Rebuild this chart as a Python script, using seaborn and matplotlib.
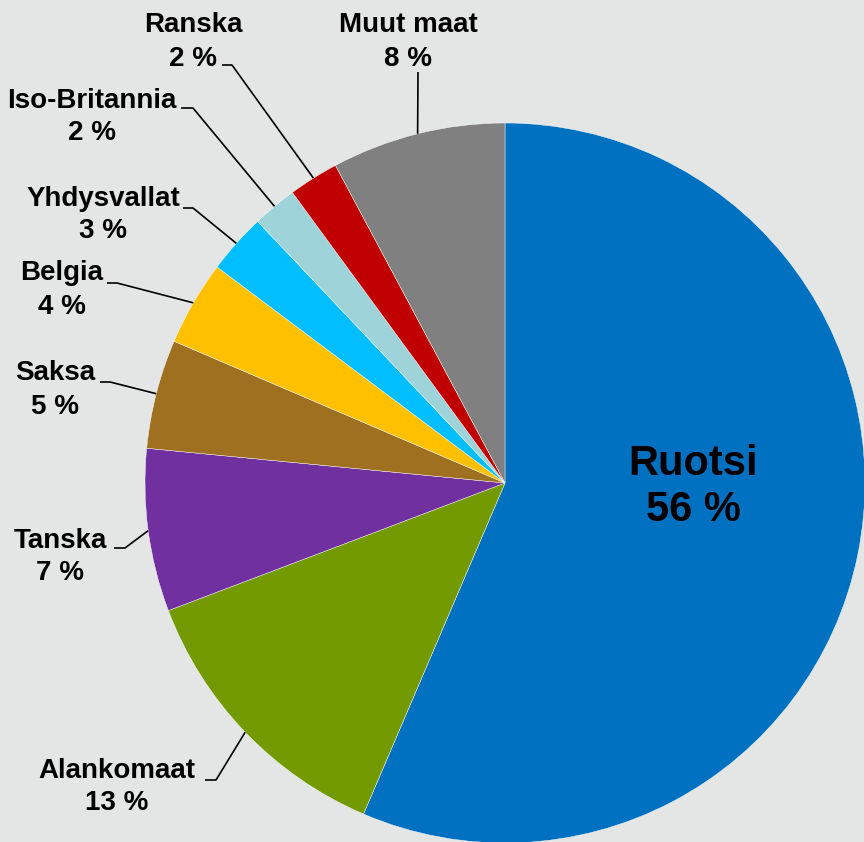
import numpy as np
import matplotlib
matplotlib.use("Agg")
import matplotlib.pyplot as plt
import seaborn as sns

# Shares by country (%), clockwise from 12 o'clock
countries = ["Ruotsi", "Alankomaat", "Tanska", "Saksa", "Belgia",
             "Yhdysvallat", "Iso-Britannia", "Ranska", "Muut maat"]
shares = [56.4, 12.8, 7.3, 4.9, 3.8, 2.7, 2.0, 2.25, 7.8]
shown_pct = [56, 13, 7, 5, 4, 3, 2, 2, 8]
colors = ["#0070C0", "#739A00", "#7030A0", "#9E7020", "#FFC000",
          "#00BEFF", "#9ED3DA", "#C00000", "#808080"]

W, H = 864, 842
bg = "#E4E6E5"

sns.set_style("white")
plt.rcParams["font.family"] = ["Liberation Sans", "DejaVu Sans"]

fig = plt.figure(figsize=(W / 100, H / 100), dpi=100, facecolor=bg)
ax = fig.add_axes([0, 0, 1, 1])
ax.set_facecolor(bg)

cx, cy, r = 505, H - 483, 360
wedges, _ = ax.pie(shares, colors=sns.color_palette(colors), startangle=90,
                   counterclock=False, center=(cx, cy), radius=r,
                   wedgeprops=dict(edgecolor="white", linewidth=0.3))
ax.set_xlim(0, W)
ax.set_ylim(0, H)
ax.set_aspect("equal")
ax.axis("off")

# label layout in pixel coords (top-left origin): text centre, leader start, leader elbow
layout = {
    "Muut maat":     ((408, 42),  (418, 72),  (418, 72)),
    "Ranska":        ((193, 42),  (222, 65),  (232, 65)),
    "Iso-Britannia": ((92, 117),  (181, 108), (193, 108)),
    "Yhdysvallat":   ((103, 215), (183, 208), (193, 208)),
    "Belgia":        ((62, 290),  (107, 283), (117, 283)),
    "Saksa":         ((55, 390),  (100, 382), (110, 382)),
    "Tanska":        ((60, 557),  (114, 548), (125, 548)),
    "Alankomaat":    ((117, 787), (205, 780), (216, 780)),
}

for w, name, pct in zip(wedges, countries, shown_pct):
    label = f"{name}\n{pct} %"
    if name == "Ruotsi":
        ax.text(693, H - 487, label, ha="center", va="center", fontsize=30,
                fontweight="bold", color="black", linespacing=1.2)
        continue
    (tx, ty), (sx, sy), (ex, ey) = layout[name]
    mid = np.deg2rad((w.theta1 + w.theta2) / 2)
    axp, ayp = cx + r * np.cos(mid), cy + r * np.sin(mid)
    ax.plot([sx, ex, axp], [H - sy, H - ey, ayp], color="black", lw=1.2,
            solid_capstyle="butt")
    ax.text(tx, H - ty, label, ha="center", va="center", fontsize=20,
            fontweight="bold", color="black", linespacing=1.35)

fig.savefig("out.png", dpi=100, facecolor=bg)
